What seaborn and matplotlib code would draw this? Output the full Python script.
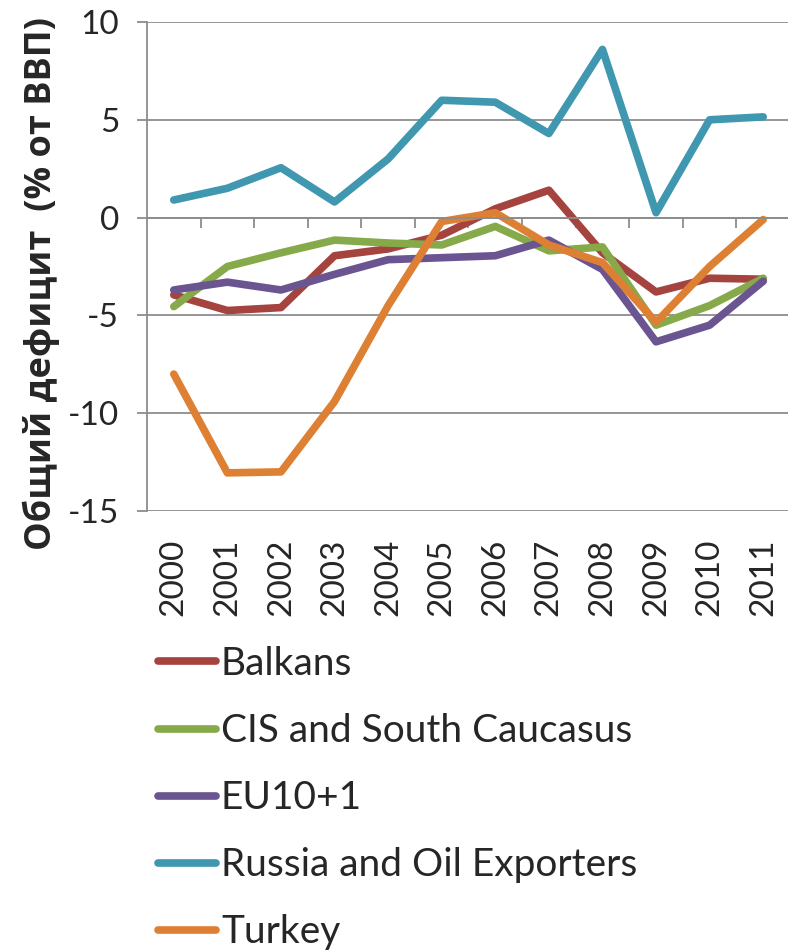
import numpy as np
import pandas as pd
import matplotlib
matplotlib.use("Agg")
import matplotlib.pyplot as plt
import seaborn as sns

years = [2000, 2001, 2002, 2003, 2004, 2005, 2006, 2007, 2008, 2009, 2010, 2011]
balkans = [-3.95, -4.75, -4.6, -1.95, -1.6, -0.9, 0.45, 1.4, -1.8, -3.8, -3.1, -3.15]
cis = [-4.55, -2.5, -1.8, -1.15, -1.3, -1.4, -0.45, -1.7, -1.5, -5.5, -4.5, -3.1]
eu10 = [-3.7, -3.3, -3.7, -2.9, -2.15, -2.05, -1.95, -1.15, -2.65, -6.35, -5.5, -3.25]
russia = [0.9, 1.5, 2.55, 0.8, 3.0, 6.0, 5.9, 4.3, 8.6, 0.25, 5.0, 5.15]
turkey = [-8.0, -13.05, -13.0, -9.4, -4.5, -0.2, 0.25, -1.4, -2.3, -5.35, -2.5, -0.1]

series_names = ["Balkans", "CIS and South Caucasus", "EU10+1",
                "Russia and Oil Exporters", "Turkey"]
series_values = [balkans, cis, eu10, russia, turkey]
colors = ["#A5433F", "#86A94A", "#6B5591", "#3F97B0", "#DD8033"]

ylabel = "Общий дефицит  (% от ВВП)"
yticks = [-15, -10, -5, 0, 5, 10]

df = pd.concat([pd.DataFrame({"year": years, "value": v, "series": n})
                for n, v in zip(series_names, series_values)], ignore_index=True)

sns.set_theme(style="white")
plt.rcParams['font.family'] = ['Lato', 'Open Sans', 'DejaVu Sans']

fig = plt.figure(figsize=(7.88, 9.5), dpi=100)
ax = fig.add_axes([147/788, 1-511/950, (790-147)/788, (511-22)/950])

sns.lineplot(data=df, x="year", y="value", hue="series", hue_order=series_names,
             palette=dict(zip(series_names, colors)), linewidth=5.5, ax=ax,
             solid_capstyle="round", solid_joinstyle="round", legend=True)

grid_c = "#8C8C8C"
ax.set_xlim(years[0]-0.5, years[-1]+0.5)
ax.set_ylim(-15, 10)
ax.set_yticks(yticks)
ax.set_yticklabels([str(t) for t in yticks], fontsize=24)
ax.yaxis.grid(True, color=grid_c, linewidth=1.3)
ax.set_axisbelow(True)
ax.tick_params(axis="y", which="major", length=7, width=1.3, color=grid_c,
               direction="out", pad=13, left=True)

for s in ["top", "right"]:
    ax.spines[s].set_visible(False)
ax.spines["left"].set_color(grid_c)
ax.spines["left"].set_linewidth(1.3)
ax.spines["bottom"].set_position(("data", 0))
ax.spines["bottom"].set_color(grid_c)
ax.spines["bottom"].set_linewidth(1.3)

ax.set_xticks([])
ax.set_xticks([y + 0.5 for y in years[:-1]], minor=True)
ax.tick_params(axis="x", which="minor", length=7.5, width=1.3, color=grid_c,
               direction="out", bottom=True)
ax.set_xlabel("")

sec = ax.secondary_xaxis("bottom")
sec.set_xticks(years)
sec.set_xticklabels([str(y) for y in years], rotation=90, fontsize=24)
sec.tick_params(length=0, pad=20)
sec.spines["bottom"].set_visible(False)

ax.set_ylabel(ylabel, fontsize=26, fontweight="bold", family="Open Sans")
ax.yaxis.set_label_coords(-0.135, 0.466)

handles, labels = ax.get_legend_handles_labels()
ax.get_legend().remove()
for h in handles:
    h.set_solid_capstyle("round")
    h.set_linewidth(5.5)
fig.legend(handles, labels, loc="upper left", bbox_to_anchor=(158/788, 1-646/950),
           frameon=False, fontsize=28, handlelength=1.5, handletextpad=0.12,
           labelspacing=0.8, borderpad=0, borderaxespad=0)

fig.savefig("out.png", dpi=100)
